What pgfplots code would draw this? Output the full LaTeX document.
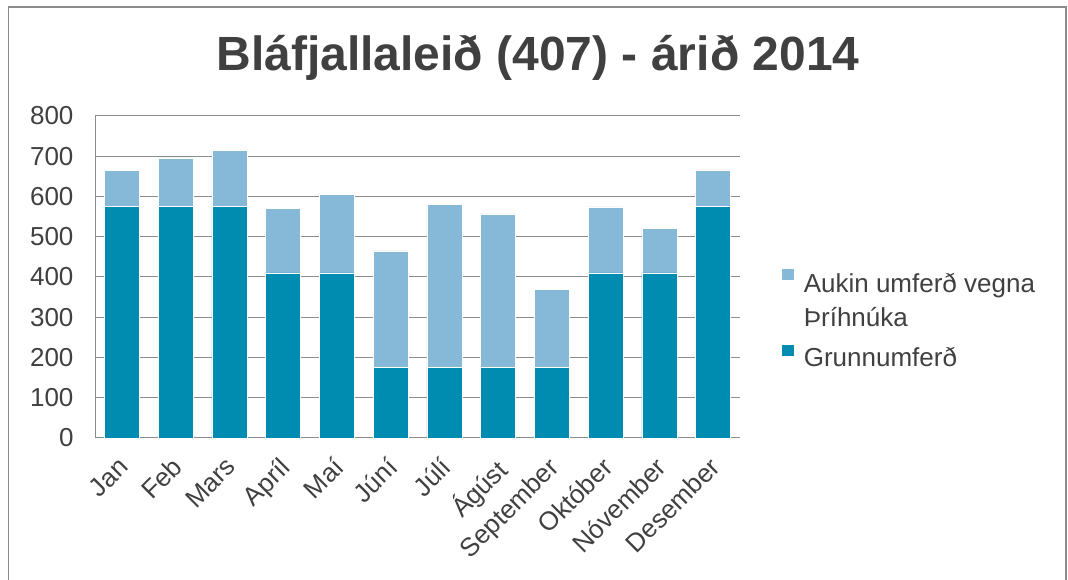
\documentclass[border=0pt]{standalone}
\usepackage{pgfplots}
\pgfplotsset{compat=1.18}
\usepackage{fontspec}
\setmainfont{Liberation Sans}
\definecolor{txt}{HTML}{404040}
\definecolor{gridc}{HTML}{8C8C8C}
\definecolor{dark}{HTML}{008BB1}
\definecolor{light}{HTML}{86B9D8}
\begin{document}
\begin{tikzpicture}[x=1pt,y=1pt]
\useasboundingbox (0,0) rectangle (1068,580);
\draw[gridc, line width=1.2pt] (8.5,-5) rectangle (1066,573);
\node[txt, font=\fontsize{48}{54}\selectfont\bfseries, anchor=base] at (538,509) {Bláfjallaleið (407) - árið 2014};
\begin{axis}[
  at={(95pt,142pt)}, anchor=south west,
  scale only axis, width=645pt, height=322pt,
  xmin=-0.5, xmax=11.5, ymin=0, ymax=800,
  ybar stacked, bar width=35pt,
  xtick={0,...,11},
  xticklabels={Jan,Feb,Mars,Apríl,Maí,Júní,Júlí,Ágúst,September,Október,Nóvember,Desember},
  xticklabel style={rotate=45, anchor=north east, inner sep=0pt, yshift=-9pt, xshift=-16pt},
  ytick={0,100,...,800},
  yticklabel style={xshift=-18pt},
  /pgf/number format/assume math mode=true,
  tick label style={font=\fontsize{26}{30}\selectfont, text=txt},
  ymajorgrids, grid style={gridc, line width=1pt},
  axis x line*=bottom, axis y line*=left,
  axis line style={gridc, line width=1pt},
  x axis line style={-}, y axis line style={-},
  xtick style={draw=none},
  ytick style={draw=none},
  legend style={at={(1,0.537)}, anchor=north west, xshift=38pt, draw=none, fill=none,
     font=\fontsize{26}{33.5}\selectfont, text=txt, cells={anchor=west},
     row sep=48pt, /tikz/every odd column/.append style={column sep=7pt}},
  reverse legend,
  legend image code/.code={\fill[#1] (0pt,1pt) rectangle (13pt,13pt);},
]
\addplot[fill=dark, draw=white, line width=0.6pt] coordinates {
(0,575) (1,575) (2,575) (3,410) (4,410) (5,175) (6,175) (7,175) (8,175) (9,410) (10,410) (11,575)};
\addlegendentry{Grunnumferð}
\addplot[fill=light, draw=white, line width=0.6pt] coordinates {
(0,90) (1,121) (2,140) (3,160) (4,196) (5,290) (6,405) (7,382) (8,194) (9,164) (10,110) (11,91)};
\addlegendentry{\begin{tabular}[t]{@{}l@{}}Aukin umferð vegna\\Þríhnúka\end{tabular}}
\end{axis}
\end{tikzpicture}
\end{document}
